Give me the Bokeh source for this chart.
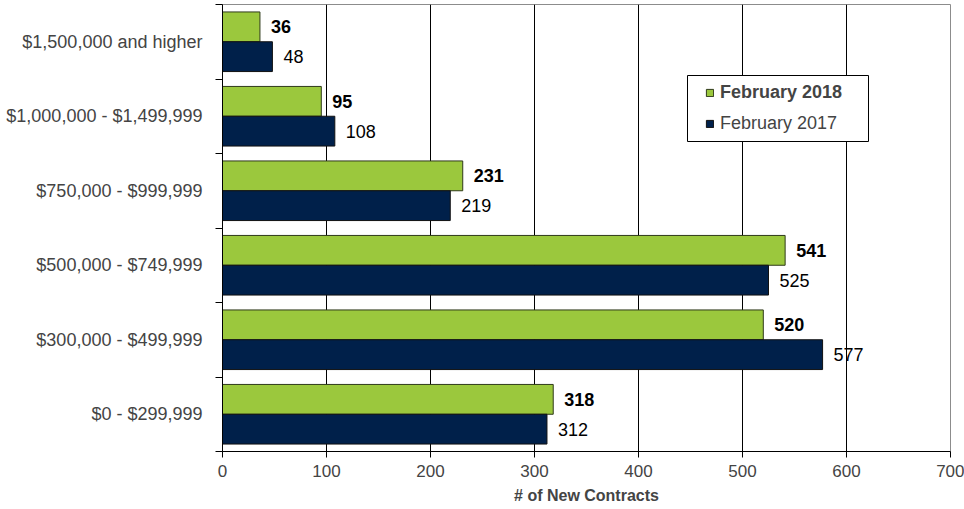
from bokeh.plotting import figure
from bokeh.models import (ColumnDataSource, Range1d, FixedTicker, Legend, LegendItem,
                          BoxAnnotation)
from bokeh.core.properties import value
from bokeh.embed import file_html
from bokeh.resources import INLINE

# ---- data (bottom to top) ----
categories = ["$0 - $299,999", "$300,000 - $499,999", "$500,000 - $749,999",
              "$750,000 - $999,999", "$1,000,000 - $1,499,999", "$1,500,000 and higher"]
feb_2018 = [318, 520, 541, 231, 95, 36]
feb_2017 = [312, 577, 525, 219, 108, 48]
x_ticks = [0, 100, 200, 300, 400, 500, 600, 700]

GREEN = "#9BC83D"
NAVY = "#00204A"
FONT = "Liberation Sans"

n = len(categories)
centers = [i + 0.5 for i in range(n)]
src = ColumnDataSource(dict(
    yc=centers,
    y18=[c + 0.2 for c in centers],
    y17=[c - 0.2 for c in centers],
    v18=feb_2018,
    v17=feb_2017,
    t18=[str(v) for v in feb_2018],
    t17=[str(v) for v in feb_2017],
))

p = figure(width=964, height=509, output_backend="svg", toolbar_location=None,
           x_range=Range1d(0, 700), y_range=Range1d(0, n),
           min_border_left=222, min_border_right=14, min_border_top=4, min_border_bottom=58)
p.outline_line_color = "#8c8c8c"
p.outline_line_width = 1
p.background_fill_color = "white"

r18 = p.hbar(y="y18", right="v18", left=0, height=0.4, source=src,
             fill_color=GREEN, line_color="#2f3a1a", line_width=1)
r17 = p.hbar(y="y17", right="v17", left=0, height=0.4, source=src,
             fill_color=NAVY, line_color="#111111", line_width=1)

p.text(x="v18", y="y18", text="t18", source=src, x_offset=11, text_baseline="middle",
       text_font=value(FONT), text_font_size="18px", text_font_style="bold", text_color="black")
p.text(x="v17", y="y17", text="t17", source=src, x_offset=11, text_baseline="middle",
       text_font=value(FONT), text_font_size="18px", text_color="black")

# x axis
p.xaxis.ticker = FixedTicker(ticks=x_ticks)
p.xaxis.axis_label = "# of New Contracts"
p.xaxis.axis_label_text_font = FONT
p.xaxis.axis_label_text_font_style = "bold"
p.xaxis.axis_label_text_font_size = "16px"
p.xaxis.axis_label_standoff = 7
p.xaxis.major_label_text_font = FONT
p.xaxis.major_label_text_font_size = "17px"
p.xaxis.major_label_standoff = 7
p.xaxis.major_tick_in = 0
p.xaxis.major_tick_out = 6
p.xaxis.minor_tick_line_color = None
p.xaxis.axis_line_color = "black"
p.xaxis.major_tick_line_color = "black"

# y axis: labels at centers, ticks at boundaries
p.yaxis.ticker = FixedTicker(ticks=centers, minor_ticks=list(range(n + 1)))
p.yaxis.major_label_overrides = {c: lab for c, lab in zip(centers, categories)}
p.yaxis.major_tick_line_color = None
p.yaxis.minor_tick_in = 0
p.yaxis.minor_tick_out = 7
p.yaxis.minor_tick_line_color = "black"
p.yaxis.axis_line_color = "black"
p.yaxis.major_label_text_font = FONT
p.yaxis.major_label_text_font_size = "18px"
p.yaxis.major_label_standoff = 13

p.ygrid.grid_line_color = None
p.xgrid.grid_line_color = "black"
p.xgrid.grid_line_width = 1

# legend frame
box = BoxAnnotation(left=465, right=646, top=376, bottom=310,
                    left_units="screen", right_units="screen",
                    top_units="screen", bottom_units="screen",
                    fill_color="white", fill_alpha=1, line_color="black",
                    line_alpha=1, line_width=1)
p.add_layout(box)

leg_common = dict(glyph_width=9, glyph_height=9, label_standoff=6, padding=0, margin=0,
                  spacing=0, border_line_alpha=0, background_fill_alpha=0,
                  label_text_font=FONT, label_text_font_size="18px",
                  label_height=18)
leg1 = Legend(items=[LegendItem(label="February 2018", renderers=[r18])],
              location=(483, 348), label_text_font_style="bold", **leg_common)
leg2 = Legend(items=[LegendItem(label="February 2017", renderers=[r17])],
              location=(483, 317), **leg_common)
p.add_layout(leg1, "center")
p.add_layout(leg2, "center")

open("out.html", "w").write(file_html(p, INLINE))
